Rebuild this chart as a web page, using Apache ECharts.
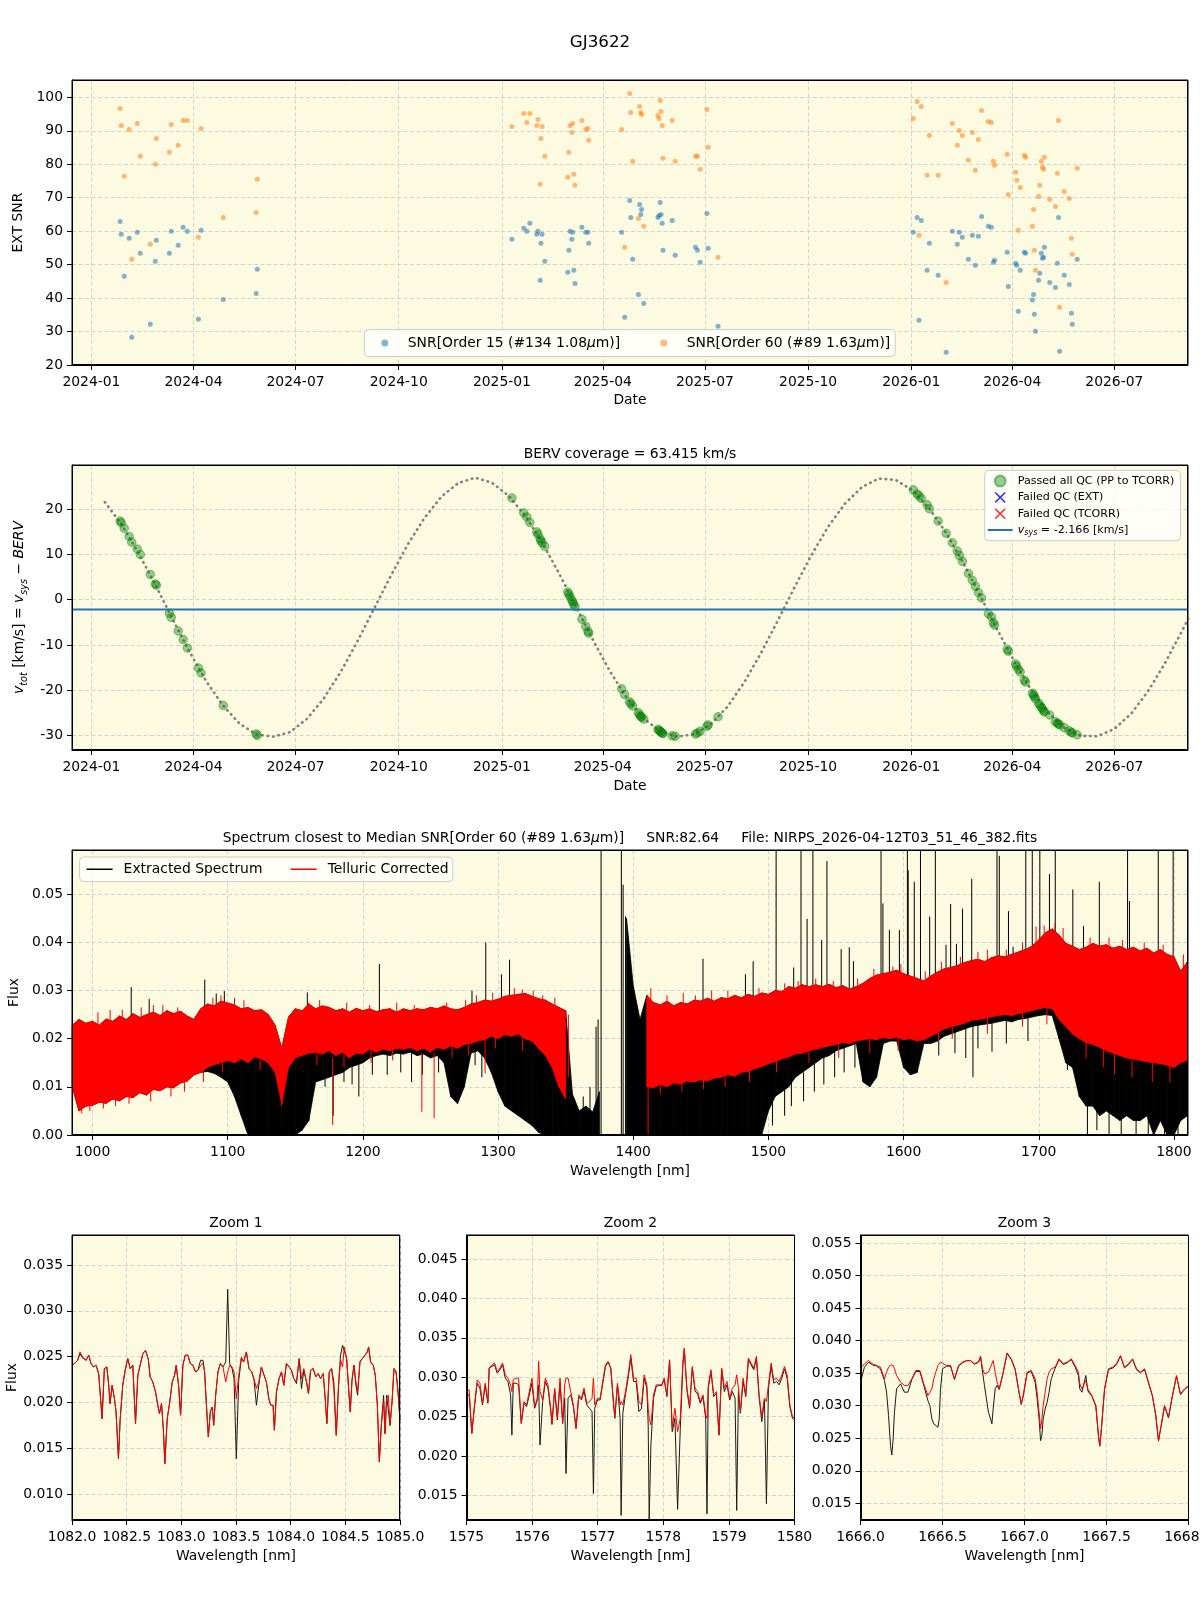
<!DOCTYPE html>
<html>
<head>
<meta charset="utf-8">
<title>GJ3622</title>
<script src="https://cdn.jsdelivr.net/npm/echarts@6.0.0/dist/echarts.min.js"></script>
<style>
  html, body { margin: 0; padding: 0; background: #ffffff; }
  #main { width: 1200px; height: 1600px; }
</style>
</head>
<body>
<div id="main"></div>
<script>
const obsDays = [
  25.6, 26.6, 29.3, 33.7, 36.0, 40.9, 43.6, 52.5, 57.0, 57.9, 69.5, 71.2, 77.4, 81.8, 85.5, 95.4, 97.8, 117.6, 146.9, 147.9,
  374.9, 385.5, 388.2, 390.9, 397.1, 398.1, 400.1, 400.8, 401.8, 404.2, 424.7, 425.7, 426.7, 428.4, 429.1, 430.1, 431.1,
  437.3, 440.7, 442.7, 443.4, 472.7, 475.5, 479.9, 480.9, 482.6, 487.7, 488.8, 489.8, 490.5, 492.5, 505.1, 506.1, 507.1,
  507.9, 508.9, 509.6, 517.8, 520.5, 538.6, 540.3, 542.7, 548.8, 549.9, 558.7,
  732.8, 736.2, 737.9, 739.9, 745.1, 747.1, 754.9, 762.1, 767.6, 772.0, 773.8, 776.5, 781.9, 785.4, 788.1, 790.8, 793.6,
  799.7, 802.4, 804.2, 805.2, 816.5, 817.5, 824.0, 825.0, 826.4, 828.1, 831.8, 832.9, 839.0, 840.0, 840.7, 841.7, 844.5,
  845.5, 846.9, 847.9, 849.0, 849.6, 854.4, 859.5, 861.2, 862.2, 863.2, 867.3, 871.8, 873.8, 874.5, 878.9
];
const snrOrder15 = [
  62.9, 59.1, 46.5, 57.9, 28.3, 59.7, 53.4, 32.2, 51.0, 57.3, 53.4, 60.0, 55.8, 61.2, 60.0, 33.7, 60.3, 39.6, 41.4, 48.6,
  57.6, 60.9, 60.0, 62.4, 59.1, 60.0, 45.3, 56.4, 59.1, 51.0, 47.7, 54.3, 60.0, 57.6, 59.7, 48.3, 44.4,
  61.2, 59.7, 59.7, 56.4, 59.7, 34.3, 69.2, 64.1, 51.6, 41.1, 68.0, 65.0, 66.5, 38.4, 64.1, 64.7, 68.6,
  65.0, 62.4, 54.3, 63.2, 52.8, 55.2, 54.3, 50.7, 65.3, 54.9, 31.6,
  59.7, 64.1, 33.4, 63.2, 48.3, 56.4, 46.8, 23.8, 60.0, 56.1, 59.7, 58.2, 51.6, 58.8, 49.8, 58.5, 64.4,
  61.5, 61.2, 50.7, 51.3, 53.7, 43.5, 50.4, 49.8, 36.1, 48.3, 53.7, 53.4, 39.4, 41.1, 35.2, 30.1, 45.3,
  47.4, 53.4, 51.9, 52.2, 55.2, 44.7, 43.2, 50.4, 64.1, 24.1, 46.8, 44.1, 35.5, 32.2, 51.6
];
const snrOrder60 = [
  96.7, 91.6, 76.4, 90.4, 51.6, 92.2, 82.4, 56.1, 80.0, 87.7, 83.6, 91.9, 85.7, 93.1, 93.1, 58.2, 90.7, 64.1, 65.6, 75.5,
  91.3, 95.2, 92.5, 95.2, 91.6, 93.4, 74.0, 87.7, 91.3, 82.4, 76.1, 83.6, 91.6, 89.5, 92.2, 77.0, 73.7,
  93.1, 90.4, 90.7, 87.2, 90.4, 55.2, 101.2, 95.5, 80.9, 63.8, 97.3, 95.5, 94.9, 61.5, 94.6, 93.7, 99.1,
  95.8, 91.6, 81.8, 93.1, 80.9, 82.4, 82.4, 78.5, 96.4, 85.1, 52.2,
  93.7, 98.8, 58.8, 97.3, 76.7, 88.6, 76.7, 44.7, 92.2, 85.7, 90.1, 88.6, 81.2, 89.5, 78.2, 87.4, 96.1,
  92.8, 92.5, 80.9, 79.7, 83.0, 71.0, 77.6, 75.2, 60.3, 73.1, 82.7, 82.1, 61.5, 66.5, 54.3, 48.3, 70.4,
  73.7, 80.9, 79.1, 78.5, 82.1, 69.5, 67.4, 77.3, 93.1, 37.3, 71.9, 69.8, 57.9, 53.1, 78.8
];
const bervObs = [
  17.4, 17.0, 15.8, 14.0, 12.7, 11.2, 10.0, 5.6, 3.5, 3.2, -3.0, -3.9, -6.9, -8.8, -10.7, -15.1, -16.2, -23.4, -29.7, -30.0,
  22.5, 19.2, 18.3, 17.1, 15.0, 14.5, 13.5, 13.0, 12.6, 11.8, 1.7, 1.2, 0.7, -0.1, -0.5, -1.0, -1.5,
  -4.3, -5.9, -7.0, -7.4, -19.7, -21.0, -22.6, -23.0, -23.5, -25.0, -25.5, -25.8, -26.0, -26.4, -28.7, -28.9, -29.1,
  -29.3, -29.5, -29.6, -30.1, -30.2, -29.7, -29.5, -29.1, -28.0, -27.7, -25.9,
  24.3, 23.4, 23.0, 22.4, 21.0, 20.1, 17.4, 14.7, 12.6, 10.8, 9.8, 8.5, 5.8, 4.3, 3.0, 1.6, 0.4,
  -3.1, -3.8, -5.1, -5.6, -11.0, -11.4, -14.2, -14.7, -15.4, -16.0, -17.8, -18.2, -20.7, -21.1, -21.4, -21.9, -22.9,
  -23.3, -23.8, -24.1, -24.6, -24.8, -25.5, -27.0, -27.3, -27.5, -27.7, -28.3, -29.0, -29.3, -29.5, -29.9
];
const failedExt = [];
const failedTcorr = [];

// dotted BERV curve, read every 15 days
const bervCurveDays = [
  12, 27, 42, 57, 72, 87, 102, 117, 132, 147, 162, 177, 192, 207, 222, 237, 252, 267, 282, 297, 312, 327, 342,
  357, 372, 387, 402, 417, 432, 447, 462, 477, 492, 507, 522, 537, 552, 567, 582, 597, 612, 627, 642, 657, 672,
  687, 702, 717, 732, 747, 762, 777, 792, 807, 822, 837, 852, 867, 882, 897, 912, 927, 942, 957, 972, 978
];
const bervCurve = [
  21.6, 16.6, 10.3, 3.3, -4.1, -11.3, -17.9, -23.3, -27.4, -29.8, -30.3, -29.3, -26.4, -21.9, -16.1, -9.3, -2.0, 5.3, 12.2, 18.1, 22.8, 25.8, 27.0,
  25.9, 23.0, 18.5, 12.6, 5.8, -1.5, -8.8, -15.7, -21.6, -26.2, -29.1, -30.3, -29.8, -27.6, -23.7, -18.3, -11.8, -4.6, 2.8, 9.9, 16.2, 21.3,
  24.9, 26.8, 26.5, 24.2, 20.2, 14.8, 8.3, 1.1, -6.3, -13.3, -19.6, -24.7, -28.3, -30.1, -30.2, -28.6, -25.2, -20.3, -14.1, -7.1, -4.2
];
const vsys = -2.166;
const dateTicks = ['2024-01', '2024-04', '2024-07', '2024-10', '2025-01', '2025-04', '2025-07', '2025-10', '2026-01', '2026-04', '2026-07'];

// full spectrum: envelopes every 5 nm from 985 nm (null = no data)
const specStart = 985, specStep = 5;
const redHi = [
  .0228, .0240, .0232, .0236, .0228, .0241, .0236, .0247, .0240, .0252,
  .0244, .0250, .0255, .0248, .0258, .0252, .0257, .0247, .0240, .0262,
  .0272, .0268, .0278, .0274, .0270, .0262, .0265, .0258, .0260, .0250,
  .0228, .0180, .0245, .0262, .0258, .0272, .0262, .0268, .0265, .0258,
  .0262, .0255, .0263, .0258, .0262, .0256, .0260, .0262, .0255, .0262,
  .0258, .0262, .0260, .0265, .0262, .0268, .0262, .0260, .0265, .0272,
  .0275, .0280, .0278, .0282, .0288, .0290, .0292, .0294, .0288, .0283,
  .0280, .0272, .0265, .0258, null, null, null, null, null, null,
  null, null, null, null, null, .0290, .0275, .0270, .0278, .0268,
  .0275, .0272, .0280, .0278, .0284, .0278, .0285, .0283, .0290, .0285,
  .0292, .0288, .0295, .0292, .0300, .0298, .0308, .0305, .0312, .0308,
  .0312, .0308, .0313, .0306, .0310, .0303, .0308, .0315, .0325, .0332,
  .0335, .0338, .0342, .0335, .0330, .0325, .0320, .0330, .0338, .0345,
  .0348, .0352, .0358, .0362, .0365, .0360, .0368, .0372, .0370, .0375,
  .0380, .0385, .0392, .0405, .0420, .0428, .0415, .0398, .0392, .0385,
  .0390, .0398, .0392, .0395, .0388, .0392, .0385, .0390, .0382, .0388,
  .0378, .0385, .0375, .0370, .0340, .0360
];
const redLo = [
  .0100, .0050, .0060, .0062, .0068, .0066, .0075, .0071, .0080, .0078,
  .0088, .0083, .0095, .0092, .0100, .0098, .0108, .0112, .0125, .0130,
  .0140, .0146, .0150, .0155, .0150, .0158, .0150, .0162, .0158, .0150,
  .0130, .0065, .0140, .0160, .0165, .0170, .0172, .0168, .0175, .0165,
  .0172, .0160, .0170, .0168, .0178, .0172, .0178, .0175, .0180, .0178,
  .0182, .0175, .0180, .0172, .0182, .0178, .0185, .0180, .0188, .0190,
  .0195, .0198, .0205, .0200, .0208, .0205, .0210, .0200, .0195, .0180,
  .0165, .0140, .0100, .0075, null, null, null, null, null, null,
  null, null, null, null, null, .0100, .0098, .0105, .0100, .0108,
  .0106, .0112, .0110, .0115, .0112, .0118, .0120, .0125, .0122, .0130,
  .0132, .0138, .0142, .0148, .0152, .0158, .0162, .0168, .0170, .0175,
  .0178, .0182, .0185, .0188, .0192, .0190, .0195, .0198, .0200, .0198,
  .0202, .0200, .0203, .0198, .0200, .0195, .0198, .0205, .0212, .0220,
  .0225, .0228, .0232, .0238, .0240, .0242, .0245, .0248, .0250, .0248,
  .0252, .0255, .0258, .0262, .0265, .0262, .0240, .0225, .0210, .0200,
  .0192, .0188, .0182, .0175, .0170, .0165, .0160, .0158, .0155, .0152,
  .0150, .0148, .0145, .0140, .0150, .0155
];
const blkHi = [
  .0228, .0240, .0232, .0236, .0228, .0241, .0236, .0247, .0240, .0252,
  .0244, .0250, .0255, .0248, .0258, .0252, .0257, .0247, .0240, .0262,
  .0272, .0268, .0278, .0274, .0270, .0262, .0265, .0258, .0260, .0250,
  .0228, .0180, .0245, .0262, .0258, .0272, .0262, .0268, .0265, .0258,
  .0262, .0255, .0263, .0258, .0262, .0256, .0260, .0262, .0255, .0262,
  .0258, .0262, .0260, .0265, .0262, .0268, .0262, .0260, .0265, .0272,
  .0275, .0280, .0278, .0282, .0288, .0290, .0292, .0294, .0288, .0283,
  .0280, .0272, .0265, .0258, .0085, .0050, .0060, .0048, .0090, null,
  null, null, .0450, .0310, .0240, .0290, .0275, .0270, .0278, .0268,
  .0275, .0272, .0280, .0278, .0284, .0278, .0285, .0283, .0290, .0285,
  .0292, .0288, .0295, .0292, .0300, .0298, .0308, .0305, .0312, .0308,
  .0312, .0308, .0313, .0306, .0310, .0303, .0308, .0315, .0325, .0332,
  .0335, .0338, .0342, .0335, .0330, .0325, .0320, .0330, .0338, .0345,
  .0348, .0352, .0358, .0362, .0365, .0360, .0368, .0372, .0370, .0375,
  .0380, .0385, .0392, .0405, .0420, .0428, .0415, .0398, .0392, .0385,
  .0390, .0398, .0392, .0395, .0388, .0392, .0385, .0390, .0382, .0388,
  .0378, .0385, .0375, .0370, .0340, .0360
];
const blkLo = [
  .0100, .0050, .0060, .0062, .0068, .0066, .0075, .0071, .0080, .0078,
  .0088, .0083, .0095, .0092, .0100, .0098, .0108, .0112, .0125, .0130,
  .0132, .0128, .0120, .0110, .0080, .0040, 0, 0, 0, 0,
  0, 0, 0, 0, .0010, .0030, .0110, .0115, .0120, .0125,
  .0130, .0140, .0145, .0150, .0160, .0165, .0168, .0165, .0170, .0168,
  .0172, .0165, .0168, .0160, .0165, .0150, .0080, .0065, .0100, .0170,
  .0175, .0160, .0130, .0090, .0060, .0050, .0040, .0030, .0020, .0005,
  0, 0, 0, 0, 0, 0, 0, 0, 0, null,
  null, null, 0, 0, 0, 0, 0, 0, 0, 0,
  0, 0, 0, 0, 0, 0, 0, 0, 0, 0,
  0, 0, 0, .0050, .0080, .0090, .0100, .0120, .0130, .0140,
  .0150, .0160, .0165, .0175, .0180, .0185, .0190, .0110, .0100, .0120,
  .0190, .0195, .0195, .0140, .0125, .0130, .0190, .0190, .0195, .0205,
  .0210, .0215, .0220, .0225, .0228, .0230, .0232, .0235, .0238, .0235,
  .0240, .0242, .0245, .0248, .0250, .0248, .0200, .0150, .0140, .0080,
  .0060, .0060, .0040, .0050, .0040, .0030, .0040, .0030, .0030, .0040,
  0, .0030, 0, 0, .0030, .0040
];
// single lines sticking out of the bands: wavelength, bottom, top
const blkSpikeWl = [
  1028.6, 1041.9, 1083.0, 1091.5, 1097.5, 1158.9, 1178.0, 1197.0, 1212.2, 1236.0, 1280.7, 1290.9, 1302.5, 1308.5,
  1357.0, 1363.0, 1368.0, 1372.5, 1374.0, 1376.2, 1391.2, 1392.5, 1394.3, 1397.7, 1400.5, 1451.6, 1483.0, 1488.7,
  1505.7, 1518.7, 1524.1, 1528.6, 1532.9, 1539.4, 1543.3, 1553.8, 1559.8, 1562.9, 1583.3, 1584.7, 1589.5, 1596.9,
  1602.8, 1603.4, 1607.9, 1612.5, 1619.3, 1623.5, 1631.4, 1634.8, 1639.1, 1643.6, 1646.0, 1650.4, 1651.3, 1665.4,
  1669.1, 1670.8, 1677.6, 1681.0, 1690.4, 1695.2, 1700.8, 1707.9, 1712.2, 1721.2, 1725.2, 1733.1, 1744.8, 1765.7,
  1767.1, 1788.4, 1799.4
];
const blkSpikeLo = [
  .022, .022, .024, .025, .025, .024, .0040, .0080, .024, .0110, .025, .026, .026, .027,
  0, 0, 0, 0, 0, 0, 0, 0, 0, 0, 0, .026, .027, .027,
  .028, .029, .029, .029, .029, .029, .029, .029, .029, .029, .031, .031, .032, .032,
  .032, .032, .031, .031, .031, .032, .033, .033, .034, .034, .0160, .035, .0120, .0173,
  .036, .036, .036, .037, .037, .038, .039, .040, .040, .0135, .038, .037, .038, .037,
  .037, .036, .035
];
const blkSpikeHi = [
  .0307, .0283, .0323, .0294, .0299, .0296, .0140, .0150, .0355, .0170, .0300, .0400, .0334, .0364,
  .0070, .0080, .0100, .0225, .0240, .0592, .0592, .0520, .0454, .0360, .0300, .0366, .0334, .0361,
  .0592, .0348, .0592, .0449, .0592, .0405, .0569, .0386, .0390, .0361, .0592, .0481, .0426, .0426,
  .0592, .0550, .0526, .0592, .0454, .0592, .0395, .0480, .0397, .0470, .0240, .0532, .0240, .0240,
  .0592, .0580, .0465, .0391, .0592, .0592, .0592, .0542, .0592, .0220, .0510, .0434, .0526, .0592,
  .0486, .0592, .0592
];
// ragged lower edge of the extracted spectrum
const blkEdgeWl = [
  1163, 1172, 1186, 1192, 1207, 1218, 1228, 1244, 1256, 1283, 1288, 1503, 1512, 1517, 1526, 1534, 1541, 1549, 1556, 1564,
  1626, 1638, 1655, 1676, 1692, 1736, 1743, 1752, 1761, 1772, 1781, 1793, 1803
];
const blkEdgeLo = [
  .0090, .0100, .0110, .0105, .0125, .0125, .0130, .0125, .0130, .0145, .0120, .0020, .0040, .0060, .0070, .0090, .0105, .0120, .0130, .0140,
  .0165, .0170, .0180, .0190, .0195, 0, .0010, 0, 0, 0, 0, 0, 0
];
const blkEdgeHi = [
  .0140, .0150, .0160, .0160, .0170, .0170, .0175, .0170, .0170, .0180, .0170, .0080, .0100, .0110, .0130, .0150, .0170, .0180, .0190, .0200,
  .0220, .0230, .0240, .0245, .0250, .0080, .0070, .0080, .0080, .0070, .0080, .0060, .0060
];
const redSpikeWl = [1139.7, 1177.6, 1243.6, 1252.7, 1290.4, 1352.0, 1411.0, 1625.8, 1698.0, 1718.0];
const redSpikeLo = [.0060, .0021, .0048, .0035, .0128, .0120, .0000, .0194, .0350, .0350];
const redSpikeHi = [.0160, .0160, .0170, .0170, .0200, .0250, .0120, .0220, .0433, .0430];
// ragged upper edge of the telluric-corrected spectrum
const redTopWl = [
  1004, 1013, 1022, 1036, 1045, 1052, 1063, 1089, 1095, 1105, 1112, 1160, 1168, 1188, 1205, 1225, 1238, 1262, 1276, 1284,
  1296, 1312, 1318, 1326, 1333, 1342, 1413, 1425, 1437, 1446, 1458, 1470, 1493, 1512, 1522, 1535, 1548, 1566, 1578, 1592,
  1598, 1616, 1628, 1642, 1655, 1662, 1676, 1688, 1704, 1712, 1738, 1752, 1762, 1778, 1792, 1807
];
const redTopLo = [
  .0225, .0230, .0235, .0240, .0245, .0245, .0245, .0260, .0265, .0262, .0255, .0255, .0255, .0252, .0250, .0250, .0250, .0255, .0258, .0265,
  .0270, .0280, .0282, .0280, .0272, .0265, .0275, .0262, .0265, .0268, .0272, .0275, .0282, .0292, .0298, .0302, .0300, .0298, .0315, .0330,
  .0332, .0312, .0335, .0342, .0352, .0352, .0360, .0372, .0400, .0415, .0385, .0385, .0380, .0378, .0372, .0340
];
const redTopHi = [
  .0255, .0260, .0260, .0265, .0270, .0270, .0265, .0285, .0290, .0285, .0280, .0275, .0280, .0275, .0270, .0275, .0270, .0275, .0280, .0290,
  .0295, .0305, .0302, .0300, .0290, .0285, .0305, .0290, .0295, .0290, .0300, .0300, .0305, .0315, .0320, .0325, .0320, .0325, .0345, .0350,
  .0355, .0340, .0360, .0370, .0380, .0385, .0385, .0400, .0435, .0440, .0410, .0410, .0405, .0400, .0395, .0375
];
// ragged lower edge of the telluric-corrected spectrum
const redBotWl = [
  992, 998, 1008, 1017, 1027, 1043, 1058, 1068, 1082, 1096, 1124, 1166, 1186, 1206, 1222, 1266, 1278, 1298, 1318, 1420,
  1436, 1452, 1468, 1486, 1506, 1530, 1552, 1575, 1596, 1636, 1662, 1688, 1706, 1735, 1748, 1756, 1769, 1784, 1797
];
const redBotLo = [
  .0045, .0050, .0055, .0060, .0065, .0070, .0080, .0090, .0110, .0130, .0135, .0145, .0140, .0150, .0155, .0160, .0165, .0180, .0175, .0085,
  .0090, .0095, .0100, .0110, .0130, .0150, .0160, .0170, .0175, .0200, .0210, .0225, .0230, .0160, .0140, .0125, .0120, .0110, .0110
];
const redBotHi = [
  .0070, .0080, .0085, .0090, .0095, .0100, .0110, .0125, .0145, .0165, .0175, .0185, .0180, .0190, .0195, .0200, .0210, .0220, .0220, .0120,
  .0125, .0130, .0140, .0150, .0170, .0190, .0200, .0215, .0220, .0240, .0260, .0270, .0280, .0210, .0195, .0185, .0175, .0165, .0160
];

// zoom 1
const zoom1Wl = [
  1082.000, 1082.021, 1082.052, 1082.073, 1082.098, 1082.128, 1082.153, 1082.174, 1082.196, 1082.220,
  1082.244, 1082.275, 1082.296, 1082.318, 1082.336, 1082.348, 1082.367, 1082.388, 1082.403, 1082.425,
  1082.440, 1082.464, 1082.486, 1082.510, 1082.532, 1082.556, 1082.581, 1082.602, 1082.623, 1082.648,
  1082.672, 1082.697, 1082.715, 1082.739, 1082.764, 1082.785, 1082.800, 1082.819, 1082.837, 1082.849,
  1082.871, 1082.892, 1082.917, 1082.938, 1082.953, 1082.975, 1082.993, 1083.014, 1083.036, 1083.060,
  1083.082, 1083.106, 1083.130, 1083.152, 1083.176, 1083.198, 1083.213, 1083.228, 1083.247, 1083.265,
  1083.283, 1083.296, 1083.314, 1083.335, 1083.357, 1083.381, 1083.406, 1083.424, 1083.442, 1083.464,
  1083.482, 1083.503, 1083.525, 1083.549, 1083.570, 1083.595, 1083.619, 1083.644, 1083.665, 1083.687,
  1083.708, 1083.732, 1083.757, 1083.778, 1083.800, 1083.818, 1083.839, 1083.851, 1083.870, 1083.894,
  1083.916, 1083.937, 1083.961, 1083.986, 1084.007, 1084.029, 1084.053, 1084.078, 1084.099, 1084.120,
  1084.145, 1084.163, 1084.182, 1084.206, 1084.230, 1084.252, 1084.273, 1084.298, 1084.316, 1084.331,
  1084.353, 1084.374, 1084.395, 1084.417, 1084.438, 1084.456, 1084.475, 1084.490, 1084.512, 1084.530,
  1084.545, 1084.561, 1084.579, 1084.597, 1084.612, 1084.634, 1084.655, 1084.679, 1084.701, 1084.713,
  1084.731, 1084.756, 1084.774, 1084.793, 1084.811, 1084.829, 1084.850, 1084.863, 1084.878, 1084.893,
  1084.909, 1084.927, 1084.945, 1084.964, 1084.982, 1085.000
];
const zoom1Red = [
  0.02405, 0.02424, 0.02460, 0.02551, 0.02496, 0.02460, 0.02515, 0.02424, 0.02387, 0.02405,
  0.02314, 0.01823, 0.02369, 0.02387, 0.02187, 0.01987, 0.02187, 0.02041, 0.01896, 0.01386,
  0.01805, 0.02187, 0.02351, 0.02478, 0.02369, 0.02405, 0.01769, 0.02296, 0.02405, 0.02533,
  0.02569, 0.02478, 0.02278, 0.02223, 0.02114, 0.01969, 0.01878, 0.01987, 0.01678, 0.01332,
  0.01823, 0.01987, 0.02223, 0.02296, 0.02405, 0.02187, 0.01860, 0.02405, 0.02515, 0.02515,
  0.02424, 0.02405, 0.02333, 0.02351, 0.02405, 0.02424, 0.02333, 0.02005, 0.01623, 0.01896,
  0.01950, 0.01750, 0.02078, 0.02333, 0.02424, 0.02387, 0.02223, 0.02333, 0.02405, 0.02387,
  0.02333, 0.02041, 0.02296, 0.02496, 0.02442, 0.02551, 0.02369, 0.02333, 0.02260, 0.02151,
  0.02223, 0.02387, 0.02296, 0.02223, 0.02041, 0.01969, 0.01969, 0.01696, 0.02114, 0.02260,
  0.02333, 0.02187, 0.02424, 0.02387, 0.02351, 0.02260, 0.02223, 0.02478, 0.02260, 0.02369,
  0.02223, 0.02096, 0.02351, 0.02369, 0.02278, 0.02314, 0.02260, 0.02314, 0.02041, 0.01769,
  0.02333, 0.02369, 0.02151, 0.01641, 0.02187, 0.02460, 0.02387, 0.02606, 0.02478, 0.02151,
  0.01896, 0.02242, 0.02405, 0.02223, 0.02114, 0.02442, 0.02478, 0.02515, 0.02551, 0.02606,
  0.02442, 0.02405, 0.02296, 0.01969, 0.01350, 0.01750, 0.02005, 0.01659, 0.02041, 0.02078,
  0.01750, 0.02005, 0.02369, 0.02333, 0.02114, 0.01805
];
const zoom1Black = [
  0.02405, 0.02424, 0.02460, 0.02533, 0.02485, 0.02460, 0.02515, 0.02424, 0.02387, 0.02405,
  0.02314, 0.01823, 0.02369, 0.02387, 0.02187, 0.01987, 0.02187, 0.02041, 0.01896, 0.01386,
  0.01805, 0.02187, 0.02351, 0.02478, 0.02369, 0.02405, 0.01769, 0.02296, 0.02405, 0.02533,
  0.02569, 0.02478, 0.02278, 0.02223, 0.02114, 0.01969, 0.01878, 0.01987, 0.01678, 0.01332,
  0.01823, 0.01987, 0.02223, 0.02296, 0.02405, 0.02187, 0.01860, 0.02405, 0.02515, 0.02515,
  0.02424, 0.02405, 0.02333, 0.02351, 0.02460, 0.02460, 0.02333, 0.02005, 0.01623, 0.01896,
  0.01950, 0.01750, 0.02078, 0.02333, 0.02424, 0.02387, 0.02442, 0.03235, 0.02424, 0.02369,
  0.02260, 0.01386, 0.02242, 0.02478, 0.02442, 0.02551, 0.02369, 0.02333, 0.02242, 0.01969,
  0.02187, 0.02387, 0.02296, 0.02223, 0.02041, 0.01969, 0.01969, 0.01696, 0.02114, 0.02260,
  0.02333, 0.02187, 0.02424, 0.02387, 0.02351, 0.02260, 0.02205, 0.02478, 0.02151, 0.02351,
  0.02223, 0.02096, 0.02351, 0.02369, 0.02278, 0.02314, 0.02260, 0.02314, 0.02041, 0.01769,
  0.02333, 0.02369, 0.02223, 0.01641, 0.02187, 0.02515, 0.02624, 0.02642, 0.02478, 0.02151,
  0.01896, 0.02242, 0.02405, 0.02187, 0.02078, 0.02442, 0.02478, 0.02515, 0.02551, 0.02606,
  0.02442, 0.02405, 0.02296, 0.01969, 0.01350, 0.01750, 0.02078, 0.01659, 0.02078, 0.02078,
  0.01750, 0.02005, 0.02369, 0.02333, 0.02114, 0.01805
];

// zoom 2
const zoom2Wl = [
  1575.000, 1575.041, 1575.081, 1575.122, 1575.163, 1575.204, 1575.244, 1575.285, 1575.326, 1575.346,
  1575.387, 1575.428, 1575.468, 1575.509, 1575.550, 1575.591, 1575.631, 1575.672, 1575.692, 1575.713,
  1575.754, 1575.794, 1575.835, 1575.876, 1575.916, 1575.957, 1575.998, 1576.039, 1576.079, 1576.100,
  1576.120, 1576.161, 1576.202, 1576.242, 1576.283, 1576.303, 1576.344, 1576.385, 1576.426, 1576.466,
  1576.497, 1576.517, 1576.548, 1576.589, 1576.629, 1576.670, 1576.711, 1576.752, 1576.792, 1576.833,
  1576.874, 1576.914, 1576.935, 1576.955, 1576.996, 1577.037, 1577.077, 1577.118, 1577.159, 1577.200,
  1577.240, 1577.261, 1577.301, 1577.342, 1577.357, 1577.383, 1577.424, 1577.464, 1577.505, 1577.546,
  1577.587, 1577.627, 1577.668, 1577.709, 1577.749, 1577.770, 1577.785, 1577.811, 1577.851, 1577.892,
  1577.933, 1577.974, 1578.014, 1578.055, 1578.096, 1578.136, 1578.177, 1578.218, 1578.259, 1578.299,
  1578.320, 1578.360, 1578.401, 1578.442, 1578.483, 1578.523, 1578.564, 1578.605, 1578.646, 1578.666,
  1578.686, 1578.727, 1578.768, 1578.809, 1578.849, 1578.890, 1578.931, 1578.971, 1579.012, 1579.053,
  1579.094, 1579.119, 1579.145, 1579.175, 1579.216, 1579.257, 1579.297, 1579.338, 1579.379, 1579.420,
  1579.460, 1579.501, 1579.542, 1579.572, 1579.603, 1579.644, 1579.684, 1579.725, 1579.766, 1579.807,
  1579.847, 1579.888, 1579.929, 1579.969, 1580.000
];
const zoom2Red = [
  0.02817, 0.02838, 0.02286, 0.02647, 0.02966, 0.02923, 0.02668, 0.02923, 0.02690, 0.03115,
  0.03157, 0.03179, 0.03072, 0.03115, 0.03179, 0.03030, 0.02987, 0.02902, 0.02817, 0.02966,
  0.02987, 0.02987, 0.02413, 0.02690, 0.02647, 0.02817, 0.02987, 0.02626, 0.02732, 0.03200,
  0.02817, 0.02711, 0.02987, 0.02902, 0.02605, 0.02401, 0.02860, 0.02477, 0.02987, 0.02413,
  0.02902, 0.02987, 0.02987, 0.02817, 0.02647, 0.02349, 0.02775, 0.02732, 0.02860, 0.02668,
  0.02690, 0.02732, 0.02987, 0.02647, 0.02732, 0.02732, 0.02945, 0.03157, 0.03200, 0.03115,
  0.02690, 0.02498, 0.02923, 0.02647, 0.02690, 0.02647, 0.02817, 0.03030, 0.03285, 0.02987,
  0.02987, 0.02690, 0.02647, 0.03030, 0.02902, 0.02605, 0.02477, 0.02392, 0.02775, 0.02902,
  0.02902, 0.02902, 0.02987, 0.02775, 0.03221, 0.02349, 0.02605, 0.02307, 0.02477, 0.03200,
  0.03370, 0.02860, 0.02626, 0.03136, 0.02860, 0.02817, 0.02690, 0.02775, 0.02520, 0.02477,
  0.02902, 0.03094, 0.02775, 0.02817, 0.02264, 0.03115, 0.02860, 0.02945, 0.02732, 0.02860,
  0.02902, 0.03030, 0.02860, 0.02562, 0.02987, 0.02775, 0.03242, 0.03179, 0.03115, 0.03264,
  0.02775, 0.02498, 0.02732, 0.02690, 0.02902, 0.03179, 0.02966, 0.02987, 0.02945, 0.03030,
  0.03136, 0.03030, 0.02647, 0.02498, 0.02477
];
const zoom2Black = [
  0.02775, 0.02775, 0.02286, 0.02626, 0.02923, 0.02860, 0.02647, 0.02902, 0.02668, 0.03115,
  0.03136, 0.03157, 0.03051, 0.03094, 0.03157, 0.02987, 0.02945, 0.02775, 0.02264, 0.02923,
  0.02923, 0.02902, 0.02413, 0.02668, 0.02626, 0.02775, 0.02923, 0.02605, 0.02711, 0.02902,
  0.02137, 0.02690, 0.02945, 0.02860, 0.02583, 0.02401, 0.02838, 0.02456, 0.02923, 0.02413,
  0.02732, 0.01776, 0.02732, 0.02775, 0.02626, 0.02349, 0.02753, 0.02711, 0.02826, 0.02647,
  0.02605, 0.02562, 0.01520, 0.02605, 0.02711, 0.02711, 0.02923, 0.03136, 0.03191, 0.03106,
  0.02668, 0.02477, 0.02902, 0.02477, 0.01244, 0.02541, 0.02783, 0.02987, 0.03242, 0.02945,
  0.02945, 0.02562, 0.02605, 0.02987, 0.02860, 0.02392, 0.01193, 0.02137, 0.02732, 0.02881,
  0.02894, 0.02894, 0.02966, 0.02753, 0.03208, 0.02307, 0.02477, 0.01321, 0.02349, 0.03157,
  0.03349, 0.02838, 0.02605, 0.03115, 0.02826, 0.02783, 0.02668, 0.02753, 0.02477, 0.01265,
  0.02860, 0.03072, 0.02753, 0.02792, 0.02264, 0.03094, 0.02817, 0.02902, 0.02711, 0.02817,
  0.02732, 0.01308, 0.02817, 0.02541, 0.02945, 0.02753, 0.03221, 0.03157, 0.03094, 0.03242,
  0.02753, 0.02435, 0.02711, 0.01393, 0.02860, 0.03136, 0.02923, 0.02945, 0.02902, 0.02987,
  0.03106, 0.02987, 0.02626, 0.02477, 0.02456
];

// zoom 3
const zoom3Wl = [
  1666.000, 1666.024, 1666.049, 1666.073, 1666.098, 1666.122, 1666.146, 1666.159, 1666.171, 1666.183,
  1666.191, 1666.199, 1666.207, 1666.220, 1666.244, 1666.268, 1666.289, 1666.313, 1666.337, 1666.362,
  1666.386, 1666.411, 1666.423, 1666.435, 1666.447, 1666.459, 1666.472, 1666.480, 1666.488, 1666.500,
  1666.524, 1666.549, 1666.573, 1666.598, 1666.622, 1666.646, 1666.671, 1666.695, 1666.720, 1666.732,
  1666.744, 1666.756, 1666.768, 1666.780, 1666.793, 1666.801, 1666.809, 1666.821, 1666.833, 1666.846,
  1666.870, 1666.894, 1666.919, 1666.943, 1666.967, 1666.980, 1666.992, 1667.016, 1667.041, 1667.065,
  1667.077, 1667.089, 1667.098, 1667.106, 1667.114, 1667.126, 1667.138, 1667.150, 1667.163, 1667.187,
  1667.211, 1667.236, 1667.260, 1667.285, 1667.309, 1667.329, 1667.337, 1667.350, 1667.362, 1667.374,
  1667.386, 1667.398, 1667.411, 1667.435, 1667.451, 1667.459, 1667.467, 1667.488, 1667.512, 1667.537,
  1667.561, 1667.585, 1667.610, 1667.634, 1667.659, 1667.683, 1667.707, 1667.732, 1667.756, 1667.780,
  1667.801, 1667.817, 1667.833, 1667.854, 1667.878, 1667.898, 1667.927, 1667.951, 1667.976, 1668.000
];
const zoom3Red = [
  0.03567, 0.03644, 0.03695, 0.03644, 0.03618, 0.03592, 0.03413, 0.03515, 0.03592, 0.03628,
  0.03644, 0.03618, 0.03567, 0.03464, 0.03362, 0.03310, 0.03310, 0.03413, 0.03541, 0.03541,
  0.03336, 0.03156, 0.03131, 0.03259, 0.03413, 0.03515, 0.03618, 0.03644, 0.03669, 0.03695,
  0.03618, 0.03618, 0.03413, 0.03618, 0.03669, 0.03695, 0.03695, 0.03644, 0.03679, 0.03762,
  0.03567, 0.03490, 0.03464, 0.03515, 0.03592, 0.03644, 0.03695, 0.03515, 0.03362, 0.03259,
  0.03515, 0.03813, 0.03721, 0.03567, 0.03208, 0.03028, 0.03156, 0.03515, 0.03541, 0.03413,
  0.03208, 0.02900, 0.02644, 0.02797, 0.03003, 0.03208, 0.03413, 0.03515, 0.03567, 0.03592,
  0.03721, 0.03644, 0.03669, 0.03721, 0.03618, 0.03515, 0.03336, 0.03259, 0.03259, 0.03387,
  0.03259, 0.03208, 0.03156, 0.03003, 0.02541, 0.02387, 0.02592, 0.03259, 0.03567, 0.03592,
  0.03644, 0.03772, 0.03592, 0.03644, 0.03721, 0.03567, 0.03515, 0.03567, 0.03362, 0.03156,
  0.02849, 0.02464, 0.02695, 0.03003, 0.02823, 0.03105, 0.03464, 0.03182, 0.03259, 0.03310
];
const zoom3Black = [
  0.03362, 0.03592, 0.03669, 0.03628, 0.03608, 0.03567, 0.03387, 0.03208, 0.02849, 0.02387,
  0.02244, 0.02490, 0.02900, 0.03259, 0.03336, 0.03208, 0.03208, 0.03403, 0.03526, 0.03526,
  0.03310, 0.03079, 0.03003, 0.02797, 0.02721, 0.02721, 0.02669, 0.02797, 0.03259, 0.03567,
  0.03608, 0.03608, 0.03403, 0.03608, 0.03659, 0.03690, 0.03690, 0.03638, 0.03669, 0.03751,
  0.03515, 0.03310, 0.03105, 0.02900, 0.02797, 0.02721, 0.02951, 0.03259, 0.03310, 0.03249,
  0.03505, 0.03803, 0.03710, 0.03556, 0.03197, 0.03018, 0.03146, 0.03505, 0.03526, 0.03362,
  0.03105, 0.02797, 0.02464, 0.02541, 0.02797, 0.02951, 0.03054, 0.03208, 0.03413, 0.03577,
  0.03710, 0.03633, 0.03659, 0.03710, 0.03592, 0.03464, 0.03259, 0.03208, 0.03182, 0.03464,
  0.03233, 0.03182, 0.03146, 0.02992, 0.02531, 0.02377, 0.02582, 0.03249, 0.03556, 0.03577,
  0.03633, 0.03762, 0.03582, 0.03633, 0.03710, 0.03556, 0.03505, 0.03556, 0.03351, 0.03146,
  0.02838, 0.02454, 0.02685, 0.02992, 0.02813, 0.03095, 0.03454, 0.03172, 0.03249, 0.03300
];

// ---------------------------------------------------------------
const FONT = 'DejaVu Sans';
const BG = '#fcfae1';
const DAY = 86400000;
const T0 = Date.UTC(2024, 0, 1);
const toMs = d => T0 + d * DAY;
const dateTickMs = dateTicks.map(s => Date.parse(s + '-01T00:00:00Z'));
const fmtDate = v => {
  const d = new Date(v);
  return d.getUTCFullYear() + '-' + String(d.getUTCMonth() + 1).padStart(2, '0');
};
const specWl = redHi.map((_, i) => specStart + i * specStep);

const name15 = 'SNR[Order 15 (#134 1.08μm)]';
const name60 = 'SNR[Order 60 (#89 1.63μm)]';
const namePass = 'Passed all QC (PP to TCORR)';
const nameExt = 'Failed QC (EXT)';
const nameTcorr = 'Failed QC (TCORR)';
const nameVsys = 'vsys';
const nameExtr = 'Extracted Spectrum';
const nameTell = 'Telluric Corrected';
const X_ICON = 'path://M0,1.2L1.2,0L6,4.8L10.8,0L12,1.2L7.2,6L12,10.8L10.8,12L6,7.2L1.2,12L0,10.8L4.8,6Z';
const LINE_ICON = 'path://M0,0L26,0L26,1.6L0,1.6Z M32,0L32,1.6Z';

function makeAxis(dim, gridIndex, min, max, ticks, fmt, name, nameGap, nameStyle) {
  return {
    type: 'value', gridIndex, min, max,
    name, nameLocation: 'middle', nameGap,
    nameRotate: dim === 'y' ? 90 : 0,
    nameTextStyle: Object.assign({color: '#000', fontFamily: FONT, fontSize: 13.9}, nameStyle || {}),
    axisLine: {show: true, onZero: false, lineStyle: {color: '#000', width: 1}},
    axisTick: {show: true, length: 5, customValues: ticks, lineStyle: {color: '#000', width: 1}},
    axisLabel: {customValues: ticks, formatter: fmt, margin: dim === 'y' ? 9 : 10,
      color: '#000', fontFamily: FONT, fontSize: 13.9},
    splitLine: {show: true, lineStyle: {color: '#c9c9c9', type: [4, 2.5], width: 0.8}}
  };
}

function bandSeries(name, lo, hi, color, z) {
  return {
    type: 'custom', name, xAxisIndex: 2, yAxisIndex: 2, z, silent: true,
    itemStyle: {color},
    data: specWl.map((w, i) => [w, lo[i] == null ? 0 : lo[i], hi[i] == null ? 0 : hi[i]]),
    encode: {x: 0, y: [1, 2]},
    renderItem(params, api) {
      const i = params.dataIndex;
      if (i >= specWl.length - 1) return;
      const v = [lo[i], hi[i], lo[i + 1], hi[i + 1]];
      if (v.some(x => x == null)) return;
      const a = api.coord([specWl[i], hi[i]]);
      const b = api.coord([specWl[i + 1], hi[i + 1]]);
      const c = api.coord([specWl[i + 1], lo[i + 1]]);
      const d = api.coord([specWl[i], lo[i]]);
      return {type: 'polygon', shape: {points: [a, b, c, d]},
        style: {fill: color, stroke: color, lineWidth: 0.8}};
    }
  };
}

function spikeSeries(name, wl, lo, hi, color, z) {
  return {
    type: 'custom', name, xAxisIndex: 2, yAxisIndex: 2, z, silent: true,
    itemStyle: {color},
    data: wl.map((w, i) => [w, lo[i], hi[i]]),
    encode: {x: 0, y: [1, 2]},
    renderItem(params, api) {
      const a = api.coord([api.value(0), api.value(1)]);
      const b = api.coord([api.value(0), api.value(2)]);
      return {type: 'line', shape: {x1: a[0], y1: a[1], x2: b[0], y2: b[1]},
        style: {stroke: color, lineWidth: 1}};
    }
  };
}

function zoomLine(name, idx, wl, flux, color, z) {
  return {
    type: 'line', name, xAxisIndex: idx, yAxisIndex: idx, z, silent: true,
    showSymbol: false, symbol: 'none', animation: false,
    data: wl.map((w, i) => [w, flux[i]]),
    itemStyle: {color},
    lineStyle: {color, width: 1}
  };
}

const gridBase = {show: true, backgroundColor: BG, borderColor: '#000', borderWidth: 1,
  containLabel: false, outerBoundsMode: 'none'};
const gridBoxes = [
  {left: 72, top: 80, width: 1116, height: 285},
  {left: 72, top: 465, width: 1116, height: 285},
  {left: 72, top: 850, width: 1116, height: 285},
  {left: 72, top: 1235, width: 328, height: 285},
  {left: 466.5, top: 1235, width: 328, height: 285},
  {left: 860.5, top: 1235, width: 328, height: 285}
];
const grids = gridBoxes.map(g => Object.assign({}, gridBase, g));
// frame drawn over the dashed grid lines that fall on the panel edges
const frames = gridBoxes.map(g => {
  const x0 = Math.round(g.left) + 0.5, y0 = Math.round(g.top) + 0.5;
  const x1 = Math.round(g.left + g.width) - 0.5, y1 = Math.round(g.top + g.height) - 0.5;
  return {type: 'rect', silent: true, z: 100,
    shape: {x: x0, y: y0, width: x1 - x0, height: y1 - y0},
    style: {fill: null, stroke: '#000', lineWidth: 1}};
});

const richV = {
  i: {fontStyle: 'italic', fontFamily: FONT, fontSize: 13.9, lineHeight: 20, verticalAlign: 'middle'},
  s: {fontStyle: 'italic', fontFamily: FONT, fontSize: 9.7, lineHeight: 10, verticalAlign: 'bottom'}
};

const xAxes = [
  makeAxis('x', 0, toMs(-17.3), toMs(977.7), dateTickMs, fmtDate, 'Date', 28.5),
  makeAxis('x', 1, toMs(-17.3), toMs(977.7), dateTickMs, fmtDate, 'Date', 29.3),
  makeAxis('x', 2, 984.8, 1810.4, [1000, 1100, 1200, 1300, 1400, 1500, 1600, 1700, 1800], v => String(Math.round(v)), 'Wavelength [nm]', 29),
  makeAxis('x', 3, 1082, 1085, [1082, 1082.5, 1083, 1083.5, 1084, 1084.5, 1085], v => v.toFixed(1), 'Wavelength [nm]', 29.8),
  makeAxis('x', 4, 1575, 1580, [1575, 1576, 1577, 1578, 1579, 1580], v => String(Math.round(v)), 'Wavelength [nm]', 29.8),
  makeAxis('x', 5, 1666, 1668, [1666, 1666.5, 1667, 1667.5, 1668], v => v.toFixed(1), 'Wavelength [nm]', 29.8)
];
const yAxes = [
  makeAxis('y', 0, 20, 105.2, [20, 30, 40, 50, 60, 70, 80, 90, 100], v => String(Math.round(v)), 'EXT SNR', 40),
  makeAxis('y', 1, -33.25, 29.8, [-30, -20, -10, 0, 10, 20], v => String(Math.round(v)),
    '{i|v}{s|tot} [km/s] = {i|v}{s|sys} − {i|BERV}', 47,
    {lineHeight: 20, verticalAlign: 'middle', rich: richV}),
  makeAxis('y', 2, 0, 0.0592, [0, 0.01, 0.02, 0.03, 0.04, 0.05], v => v.toFixed(2), 'Flux', 40),
  makeAxis('y', 3, 0.00716, 0.03828, [0.010, 0.015, 0.020, 0.025, 0.030, 0.035], v => v.toFixed(3), 'Flux', 53),
  makeAxis('y', 4, 0.01186, 0.04805, [0.015, 0.020, 0.025, 0.030, 0.035, 0.040, 0.045], v => v.toFixed(3), '', 50),
  makeAxis('y', 5, 0.01244, 0.05623, [0.015, 0.020, 0.025, 0.030, 0.035, 0.040, 0.045, 0.050, 0.055], v => v.toFixed(3), '', 50)
];

const titleStyle = (size) => ({color: '#000', fontFamily: FONT, fontSize: size, fontWeight: 'normal'});
const titleBase = {textAlign: 'center', textVerticalAlign: 'top', padding: 0};
const titles = [
  Object.assign({text: 'GJ3622', left: 600, top: 34, textStyle: titleStyle(16.7)}, titleBase),
  Object.assign({text: 'BERV coverage = 63.415 km/s', left: 630, top: 447, textStyle: titleStyle(13.9)}, titleBase),
  Object.assign({text: 'Spectrum closest to Median SNR[Order 60 (#89 1.63{m|μ}m)]     SNR:82.64     File: NIRPS_2026-04-12T03_51_46_382.fits',
    left: 630, top: 831.5,
    textStyle: Object.assign(titleStyle(13.9), {rich: {m: {fontStyle: 'italic', fontFamily: FONT, fontSize: 13.9}}})}, titleBase),
  Object.assign({text: 'Zoom 1', left: 236, top: 1216, textStyle: titleStyle(13.9)}, titleBase),
  Object.assign({text: 'Zoom 2', left: 630.5, top: 1216, textStyle: titleStyle(13.9)}, titleBase),
  Object.assign({text: 'Zoom 3', left: 1024.5, top: 1216, textStyle: titleStyle(13.9)}, titleBase)
];

const legendBox = {backgroundColor: 'rgba(255,255,255,0.8)', borderColor: '#cccccc', borderWidth: 1,
  borderRadius: 4, selectedMode: false};
const legends = [
  Object.assign({}, legendBox, {
    orient: 'horizontal', left: 364.3, top: 329.6, padding: [5, 5, 5, 17],
    itemWidth: 36, itemHeight: 7, itemGap: 40,
    data: [{name: name15, icon: 'circle'}, {name: name60, icon: 'circle'}],
    formatter: n => n.replace('μ', '{m|μ}'),
    textStyle: {color: '#000', fontFamily: FONT, fontSize: 13.9, lineHeight: 17,
      rich: {m: {fontStyle: 'italic', fontFamily: FONT, fontSize: 13.9, lineHeight: 17}}}
  }),
  Object.assign({}, legendBox, {
    orient: 'vertical', left: 984.7, top: 470.4, padding: [4.2, 6, 4.2, 3],
    itemWidth: 25, itemHeight: 11, itemGap: 3.3,
    data: [
      {name: namePass, icon: 'circle'},
      {name: nameExt, icon: X_ICON},
      {name: nameTcorr, icon: X_ICON},
      {name: nameVsys, icon: 'path://M0,0L25,0L25,2L0,2Z'}
    ],
    formatter: n => n === nameVsys ? '{i|v}{s|sys} = ' + vsys + ' [km/s]' : n,
    textStyle: {color: '#000', fontFamily: FONT, fontSize: 11.1, lineHeight: 13,
      rich: {
        i: {fontStyle: 'italic', fontFamily: FONT, fontSize: 11.1, lineHeight: 13, verticalAlign: 'middle'},
        s: {fontStyle: 'italic', fontFamily: FONT, fontSize: 8, lineHeight: 7, verticalAlign: 'bottom'}
      }}
  }),
  Object.assign({}, legendBox, {
    orient: 'horizontal', left: 79.6, top: 857, padding: [4, 4.3, 4, 7],
    itemWidth: 32, itemHeight: 10, itemGap: 28.2,
    data: [
      {name: nameExtr, icon: LINE_ICON, itemStyle: {color: '#000'}},
      {name: nameTell, icon: LINE_ICON, itemStyle: {color: '#ff0000'}}
    ],
    textStyle: {color: '#000', fontFamily: FONT, fontSize: 13.9, lineHeight: 16.6}
  })
];

const series = [
  // panel 1: SNR
  {type: 'scatter', name: name15, xAxisIndex: 0, yAxisIndex: 0, symbolSize: 5,
    itemStyle: {color: '#1f77b4', opacity: 0.55},
    data: obsDays.map((d, i) => [toMs(d), snrOrder15[i]])},
  {type: 'scatter', name: name60, xAxisIndex: 0, yAxisIndex: 0, symbolSize: 5,
    itemStyle: {color: '#ff7f0e', opacity: 0.55},
    data: obsDays.map((d, i) => [toMs(d), snrOrder60[i]])},
  // panel 2: BERV
  {type: 'line', name: 'BERV model', xAxisIndex: 1, yAxisIndex: 1, showSymbol: false, symbol: 'none', silent: true, z: 2,
    lineStyle: {color: '#7f7f7f', width: 2.6, type: [0.5, 5], cap: 'round'},
    data: bervCurveDays.map((d, i) => [toMs(d), bervCurve[i]])},
  {type: 'scatter', name: namePass, xAxisIndex: 1, yAxisIndex: 1, symbolSize: 8.5, z: 3,
    itemStyle: {color: 'rgba(0,128,0,0.5)', borderColor: 'rgba(0,128,0,0.55)', borderWidth: 1},
    data: obsDays.map((d, i) => [toMs(d), bervObs[i]])},
  {type: 'scatter', name: nameExt, xAxisIndex: 1, yAxisIndex: 1, symbol: X_ICON, symbolSize: 11,
    itemStyle: {color: '#0000ff'}, data: failedExt},
  {type: 'scatter', name: nameTcorr, xAxisIndex: 1, yAxisIndex: 1, symbol: X_ICON, symbolSize: 11,
    itemStyle: {color: '#ff0000'}, data: failedTcorr},
  {type: 'line', name: nameVsys, xAxisIndex: 1, yAxisIndex: 1, showSymbol: false, symbol: 'none', silent: true, z: 4,
    itemStyle: {color: '#1f77b4'}, lineStyle: {color: '#1f77b4', width: 2},
    data: [[toMs(-17.3), vsys], [toMs(977.7), vsys]]},
  // panel 3: full spectrum
  bandSeries(nameExtr, blkLo, blkHi, '#000000', 2),
  spikeSeries(nameExtr, blkSpikeWl, blkSpikeLo, blkSpikeHi, '#000000', 2),
  spikeSeries(nameExtr, blkEdgeWl, blkEdgeLo, blkEdgeHi, '#000000', 2),
  bandSeries(nameTell, redLo, redHi, '#ff0000', 3),
  spikeSeries(nameTell, redSpikeWl, redSpikeLo, redSpikeHi, '#ff0000', 3),
  spikeSeries(nameTell, redTopWl, redTopLo, redTopHi, '#ff0000', 3),
  spikeSeries(nameTell, redBotWl, redBotLo, redBotHi, '#ff0000', 3),
  // zooms
  zoomLine(nameExtr, 3, zoom1Wl, zoom1Black, '#1a1a1a', 2),
  zoomLine(nameTell, 3, zoom1Wl, zoom1Red, '#ff0000', 3),
  zoomLine(nameExtr, 4, zoom2Wl, zoom2Black, '#1a1a1a', 2),
  zoomLine(nameTell, 4, zoom2Wl, zoom2Red, '#ff0000', 3),
  zoomLine(nameExtr, 5, zoom3Wl, zoom3Black, '#1a1a1a', 2),
  zoomLine(nameTell, 5, zoom3Wl, zoom3Red, '#ff0000', 3)
];

const chart = echarts.init(document.getElementById('main'), null, {renderer: 'canvas', width: 1200, height: 1600});
chart.setOption({
  animation: false,
  backgroundColor: '#ffffff',
  title: titles,
  legend: legends,
  grid: grids,
  xAxis: xAxes,
  yAxis: yAxes,
  series: series,
  graphic: frames
});
</script>
</body>
</html>
